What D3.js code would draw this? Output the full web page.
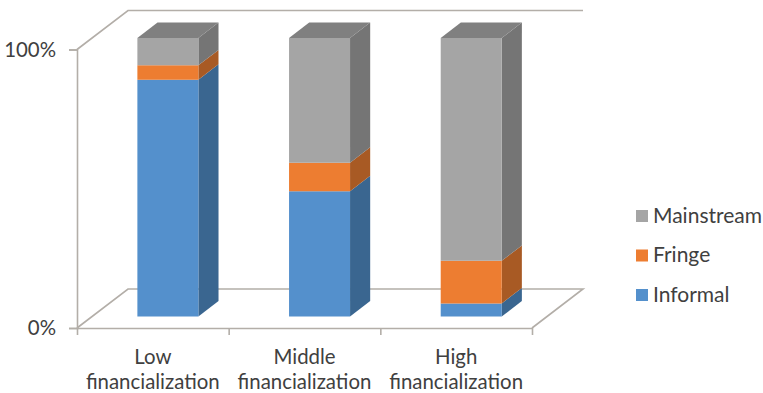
<!DOCTYPE html>
<html>
<head>
<meta charset="utf-8">
<script src="https://cdn.jsdelivr.net/npm/d3@7/dist/d3.min.js"></script>
<style>
  html, body { margin: 0; padding: 0; background: #fff; }
  svg { display: block; }
  text { font-family: Lato, "Open Sans", sans-serif; fill: #404040; }
</style>
</head>
<body>
<svg id="chart" width="763" height="393"></svg>
<script>
// Stacked shares per financialization level, bottom segment first
const categories = [["Low", "financialization"], ["Middle", "financialization"], ["High", "financialization"]];
const seriesNames = ["Informal", "Fringe", "Mainstream"];
const informal = [0.85, 0.45, 0.047];
const fringe = [0.052, 0.102, 0.153];
const mainstream = [0.098, 0.448, 0.8];
const yTicks = [0, 1];

const faceColors = ["#5490CC", "#ED7D31", "#A5A5A5"];
const sideColors = ["#3A6690", "#A85A24", "#757575"];
const topColor = "#808080";
const gridColor = "#B3AEA8";

const svg = d3.select("#chart");

// Front plane of the box
const x = d3.scaleBand().domain(d3.range(categories.length)).range([77, 532]);
const y = d3.scaleLinear().domain([0, 1]).range([328, 49.5]);

// Oblique projection: depth 0 is the front plane, depth 1 the back wall
const depthX = d3.scaleLinear().domain([0, 1]).range([0, 51]);
const depthY = d3.scaleLinear().domain([0, 1]).range([0, -39]);
const project = (px, py, d) => [px + depthX(d), py + depthY(d)];

// Bars span this slice of the depth and this share of the band width
const barNear = 0.295, barFar = 0.69, barWidth = 61;
const line = d3.line();

// Wall and floor outlines
const frame = svg.append("g").attr("fill", "none").attr("stroke", gridColor).attr("stroke-width", 1.6);
frame.append("path").attr("d", line([
  [x.range()[0], y(1)],
  project(x.range()[0], y(1), 1),
  project(x.range()[1], y(1), 1)
]));
frame.append("path").attr("d", line([
  [x.range()[0], y(0)],
  project(x.range()[0], y(0), 1),
  project(x.range()[1], y(0), 1),
  [x.range()[1], y(0)]
]));

// Value axis
const yAxis = d3.axisLeft(y).tickValues(yTicks).tickFormat(d3.format(".0%")).tickSize(8).tickPadding(13);
const yG = svg.append("g").attr("transform", `translate(${x.range()[0]},0)`).call(yAxis);
yG.select(".domain").attr("stroke", gridColor).attr("stroke-width", 1.6);
yG.selectAll(".tick line").attr("stroke", gridColor).attr("stroke-width", 1.6);
yG.selectAll("text").attr("font-size", 20.4).attr("fill", "#404040");

// Category axis: ticks sit on the band edges
const edges = d3.range(categories.length + 1).map(i => x.range()[0] + i * x.step());
const edgeScale = d3.scaleLinear().domain(x.range()).range(x.range());
const xAxis = d3.axisBottom(edgeScale).tickValues(edges).tickFormat("").tickSize(7).tickSizeOuter(0);
const xG = svg.append("g").attr("transform", `translate(0,${y(0)})`).call(xAxis);
xG.select(".domain").attr("stroke", gridColor).attr("stroke-width", 1.6);
xG.selectAll(".tick line").attr("stroke", gridColor).attr("stroke-width", 1.6);

svg.append("g").selectAll("text").data(categories).join("text")
  .attr("text-anchor", "middle")
  .attr("font-size", 20.4)
  .attr("x", (d, i) => x(i) + x.bandwidth() / 2)
  .selectAll("tspan").data(d => d).join("tspan")
  .attr("x", function () { return d3.select(this.parentNode).attr("x"); })
  .attr("y", (d, i) => 364 + i * 25)
  .text(d => d);

// Stacked 3D bars
const rows = categories.map((c, i) => ({ i, Informal: informal[i], Fringe: fringe[i], Mainstream: mainstream[i] }));
const stacked = d3.stack().keys(seriesNames)(rows);

stacked.forEach((layer, s) => {
  const g = svg.append("g");
  layer.forEach(seg => {
    const i = seg.data.i;
    const left = x(i) + (x.bandwidth() - barWidth) / 2;
    const right = left + barWidth;
    const a = project(left, y(seg[1]), barNear);
    const b = project(right, y(seg[1]), barNear);
    const c = project(right, y(seg[0]), barNear);
    const d = project(left, y(seg[0]), barNear);
    const bBack = project(right, y(seg[1]), barFar);
    const cBack = project(right, y(seg[0]), barFar);
    g.append("path").attr("d", line([b, bBack, cBack, c]) + "Z").attr("fill", sideColors[s]);
    g.append("path").attr("d", line([a, b, c, d]) + "Z").attr("fill", faceColors[s]);
    if (s === stacked.length - 1) {
      const aBack = project(left, y(seg[1]), barFar);
      g.append("path").attr("d", line([a, aBack, bBack, b]) + "Z").attr("fill", topColor);
    }
  });
});

// Legend, listed top-down in reverse stacking order
const legend = svg.append("g").selectAll("g").data(seriesNames.slice().reverse()).join("g")
  .attr("transform", (d, i) => `translate(636,${210 + i * 39.5})`);
legend.append("rect").attr("width", 12).attr("height", 12)
  .attr("fill", d => faceColors[seriesNames.indexOf(d)]);
legend.append("text").attr("x", 17).attr("y", 12.5).attr("font-size", 21).text(d => d);
</script>
</body>
</html>
